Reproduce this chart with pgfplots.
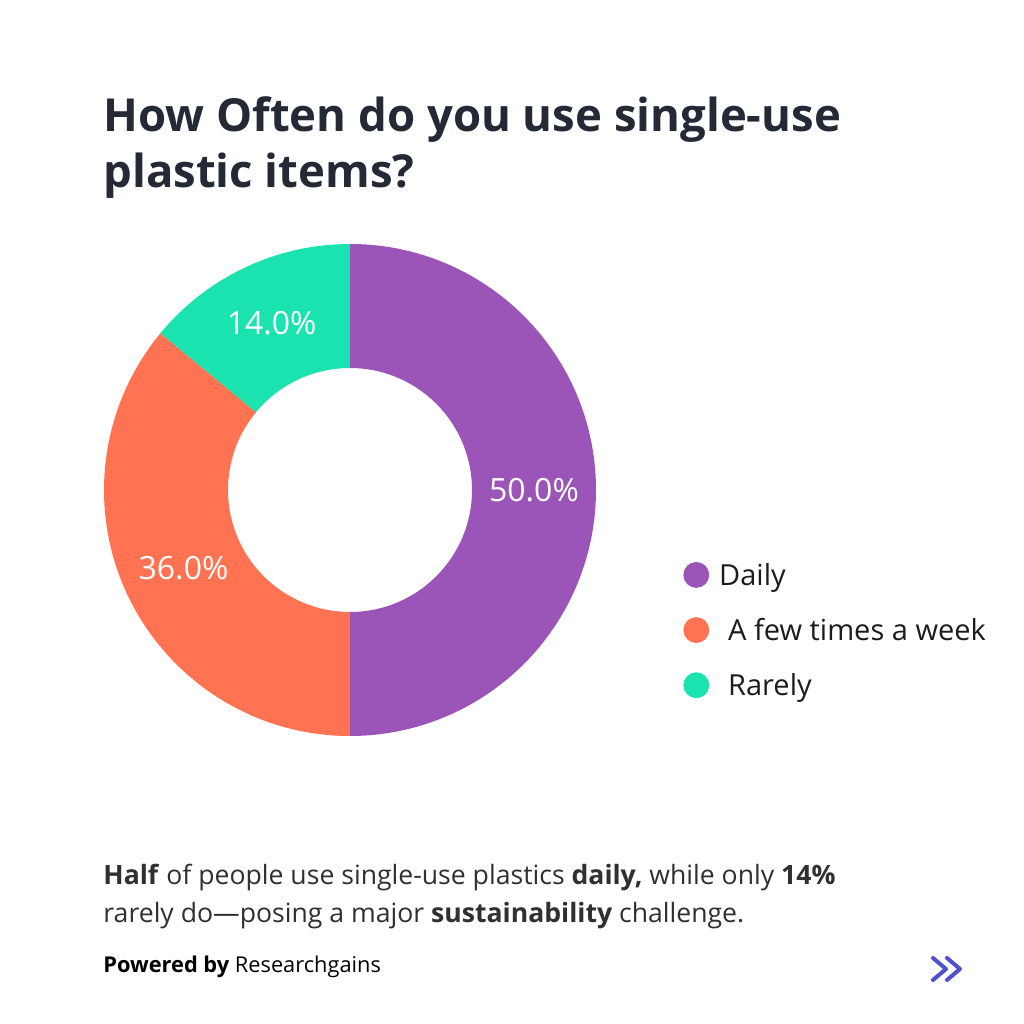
\documentclass[border=0pt]{standalone}
\usepackage{fontspec}
\setmainfont{Open Sans}
\usepackage{pgfplots}
\usepackage{pgfplotstable}
\pgfplotsset{compat=1.18}

\definecolor{cDaily}{HTML}{9B55B8}
\definecolor{cWeek}{HTML}{FF7352}
\definecolor{cRare}{HTML}{1BE3AF}
\definecolor{ctitle}{HTML}{232935}
\definecolor{cbody}{HTML}{303030}
\definecolor{clegend}{HTML}{1C1C1C}
\definecolor{carrow}{HTML}{4F52CF}

% share of answers, in percent
\pgfplotstableread[col sep=comma]{
label,value,color
Daily,50.0,cDaily
A few times a week,36.0,cWeek
Rarely,14.0,cRare
}\slices

\begin{document}
\begin{tikzpicture}[x=0.5pt,y=0.5pt]
\path[use as bounding box, fill=white] (0,0) rectangle (1024,1024);

\node[anchor=base west, inner sep=0pt, text=ctitle, font=\bfseries\fontsize{22.75}{27}\selectfont] at (103,892) {How Often do you use single-use};
\node[anchor=base west, inner sep=0pt, text=ctitle, font=\bfseries\fontsize{22.75}{27}\selectfont] at (103,836) {plastic items?};

\begin{axis}[
    at={(175pt,267pt)}, anchor=center,
    x=0.5pt, y=0.5pt,
    xmin=-250, xmax=250, ymin=-250, ymax=250,
    scale only axis, hide axis, disabledatascaling,
    legend cell align=left,
    legend image code/.code={\fill (6.25pt,1pt) circle (6.25pt);},
    legend style={draw=none, fill=none, at={(1.166,0.216)}, anchor=west,
        inner sep=0pt, row sep=12.75pt, text=clegend,
        font=\fontsize{14.5}{17}\selectfont,
        nodes={inner sep=0pt, text height=11.75pt, text depth=3pt},
        /tikz/every odd column/.append style={column sep=5pt}},
]
\def\startang{90}
\pgfplotsforeachungrouped \i in {0,1,2}{
    \pgfplotstablegetelem{\i}{value}\of\slices \let\val\pgfplotsretval
    \pgfplotstablegetelem{\i}{color}\of\slices \let\col\pgfplotsretval
    \pgfmathsetmacro\endang{\startang-3.6*\val}
    \pgfmathsetmacro\midang{(\startang+\endang)/2}
    \pgfmathsetmacro\xa{246*cos(\startang)}
    \pgfmathsetmacro\ya{246*sin(\startang)}
    \pgfmathsetmacro\xb{122*cos(\endang)}
    \pgfmathsetmacro\yb{122*sin(\endang)}
    \pgfmathsetmacro\xm{184*cos(\midang)}
    \pgfmathsetmacro\ym{184*sin(\midang)}
    \edef\temp{%
        \noexpand\fill[\col] (axis cs:\xa,\ya) arc[start angle=\startang, end angle=\endang, radius=246]
            -- (axis cs:\xb,\yb) arc[start angle=\endang, end angle=\startang, radius=122] -- cycle;
        \noexpand\node[text=white, font=\noexpand\fontsize{16}{19}\noexpand\selectfont]
            at (axis cs:\xm,\ym) {\noexpand\pgfmathprintnumber[fixed,fixed zerofill,precision=1,assume math mode=true]{\val}\noexpand\%};
    }
    \temp
    \global\let\startang\endang
}
\addlegendimage{cDaily}
\addlegendentry{Daily}
\addlegendimage{cWeek}
\addlegendentry{\hspace{4.5pt}A few times a week}
\addlegendimage{cRare}
\addlegendentry{\hspace{4.5pt}Rarely}
\end{axis}

\node[anchor=base west, inner sep=0pt, text=cbody, font=\fontsize{13.3}{16}\selectfont] at (103,139)
    {\textbf{Half} of people use single-use plastics \textbf{daily,} while only \textbf{14\%}};
\node[anchor=base west, inner sep=0pt, text=cbody, font=\fontsize{13.3}{16}\selectfont] at (103,101)
    {rarely do—posing a major \textbf{sustainability} challenge.};
\node[anchor=base west, inner sep=0pt, text=black, font=\fontsize{10.9}{13}\selectfont] at (103,51)
    {\textbf{Powered by} Researchgains};

\draw[carrow, line width=2pt, line cap=round, line join=round] (933,66) -- (946,55) -- (933,44);
\draw[carrow, line width=2pt, line cap=round, line join=round] (947,66) -- (960,55) -- (947,44);
\end{tikzpicture}
\end{document}
